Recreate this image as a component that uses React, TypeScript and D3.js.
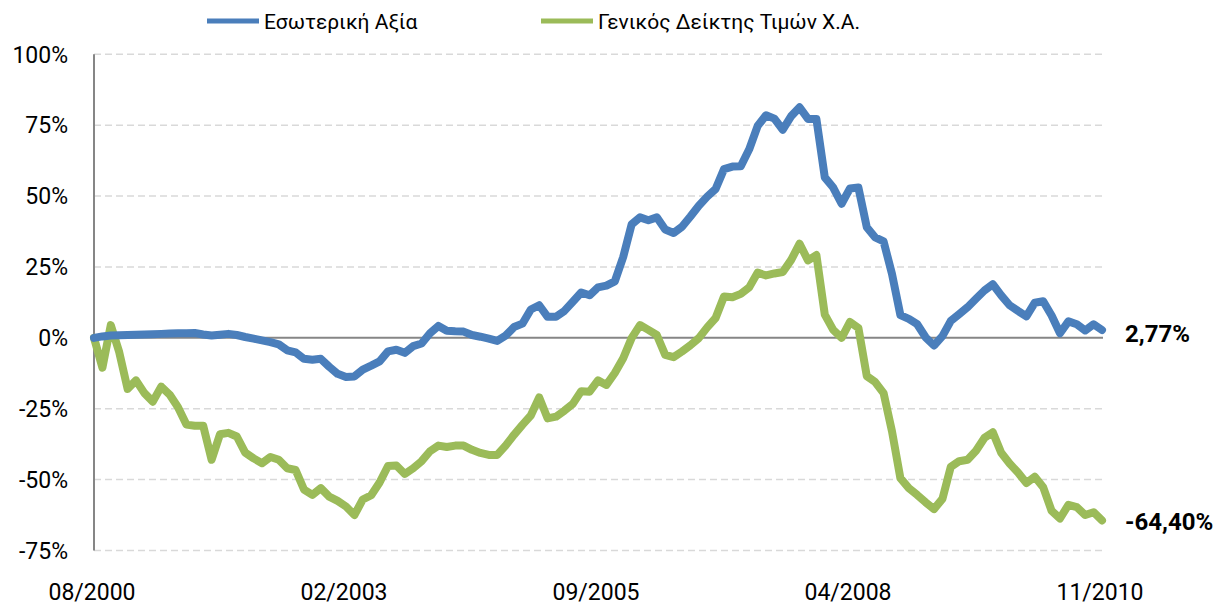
import React, { useRef, useEffect } from "react";
import * as d3 from "d3";

// Σειρές (μηνιαίες μεταβολές %, 08/2000 - 11/2010)
const seriesNames = ["Εσωτερική Αξία", "Γενικός Δείκτης Τιμών Χ.Α."];
const seriesColors = ["#4a7ebb", "#9bbb59"];

const intrinsicValue = [
  0, 0.5, 0.8, 0.9, 1.0, 1.1, 1.2, 1.3, 1.4, 1.5,
  1.6, 1.6, 1.7, 1.2, 0.8, 1.1, 1.4, 1.0, 0.3, -0.3,
  -0.9, -1.5, -2.3, -4.4, -5.1, -7.4, -7.7, -7.4, -10.2, -12.7,
  -13.8, -13.6, -11.2, -9.8, -8.3, -4.8, -4.2, -5.3, -2.9, -2.0,
  1.6, 4.2, 2.5, 2.3, 2.2, 1.0, 0.4, -0.3, -1.1, 0.8,
  3.8, 5.0, 10.0, 11.5, 7.4, 7.4, 9.5, 12.7, 16.0, 15.0,
  17.8, 18.4, 19.9, 28.5, 40.0, 42.5, 41.5, 42.5, 38.2, 37.0,
  39.2, 42.8, 46.6, 49.8, 52.5, 59.5, 60.4, 60.5, 66.5, 74.7,
  78.5, 77.3, 73.4, 78.2, 81.3, 77.2, 77.2, 56.6, 53.0, 47.3,
  52.7, 53.0, 39.0, 35.4, 34.0, 22.5, 8.0, 6.7, 4.8, 0.2,
  -2.7, 0.6, 6.0, 8.4, 10.8, 13.8, 16.7, 18.9, 15.0, 11.5,
  9.5, 7.6, 12.4, 12.9, 7.9, 1.6, 5.8, 4.8, 2.6, 4.8,
  2.77,
];

const generalIndex = [
  0, -10.5, 4.5, -5.0, -18.0, -15.0, -19.5, -22.5, -17.2, -20.0,
  -24.5, -30.6, -31.0, -31.0, -43.0, -34.0, -33.5, -34.8, -40.5, -42.5,
  -44.2, -42.0, -43.0, -46.0, -46.6, -53.5, -55.4, -53.0, -56.0, -57.5,
  -59.5, -62.5, -57.0, -55.5, -51.0, -45.2, -45.0, -48.0, -46.0, -43.5,
  -40.0, -38.0, -38.5, -38.0, -38.0, -39.5, -40.6, -41.3, -41.3, -38.0,
  -34.2, -30.7, -27.4, -21.0, -28.4, -27.8, -25.7, -23.3, -18.8, -19.0,
  -15.0, -16.6, -12.4, -7.2, -0.1, 4.5, 2.8, 1.0, -6.0, -6.8,
  -4.8, -2.6, -0.1, 3.7, 7.0, 14.6, 14.3, 15.5, 17.8, 23.0,
  22.0, 22.7, 23.2, 27.5, 33.2, 27.3, 29.2, 8.2, 2.8, 0.0,
  5.6, 3.5, -13.5, -15.6, -19.5, -33.0, -49.5, -53.0, -55.4, -58.0,
  -60.4, -56.8, -45.5, -43.5, -43.0, -39.8, -35.3, -33.3, -40.5, -44.3,
  -47.5, -51.2, -49.0, -52.7, -61.0, -63.7, -58.9, -59.7, -62.5, -61.5,
  -64.4,
];

const xTickLabels = ["08/2000", "02/2003", "09/2005", "04/2008", "11/2010"];
const xTickStep = 30;
const yTicks = [-75, -50, -25, 0, 25, 50, 75, 100];
const endLabels = ["2,77%", "-64,40%"];

const WIDTH = 1216;
const HEIGHT = 605;
const FONT = "Roboto, 'Open Sans', sans-serif";

export default function App() {
  const svgRef = useRef<SVGSVGElement>(null);

  useEffect(() => {
    if (!svgRef.current) return;
    const svg = d3.select(svgRef.current);
    svg.selectAll("*").remove();

    const left = 94;
    const right = 1102;
    const top = 54.3;
    const bottom = 550.5;

    const x = d3.scaleLinear().domain([0, intrinsicValue.length - 1]).range([left, right]);
    const y = d3.scaleLinear().domain([-75, 100]).range([bottom, top]);

    // οριζόντιες γραμμές πλέγματος
    yTicks
      .filter((t) => t !== 0)
      .forEach((t) => {
        svg
          .append("line")
          .attr("x1", left)
          .attr("x2", right + 1)
          .attr("y1", y(t))
          .attr("y2", y(t))
          .attr("stroke", "#d9d9d9")
          .attr("stroke-width", 1.5)
          .attr("stroke-dasharray", "7,4");
      });

    // ετικέτες άξονα Y
    yTicks.forEach((t) => {
      svg
        .append("text")
        .attr("x", 68)
        .attr("y", y(t))
        .attr("dy", "0.36em")
        .attr("text-anchor", "end")
        .style("font-family", FONT)
        .style("font-size", "23px")
        .style("fill", "#000")
        .text(`${t}%`);
    });

    // ετικέτες άξονα X
    xTickLabels.forEach((label, i) => {
      svg
        .append("text")
        .attr("x", x(i * xTickStep) - 2)
        .attr("y", 600)
        .attr("text-anchor", "middle")
        .style("font-family", FONT)
        .style("font-size", "23px")
        .style("fill", "#000")
        .text(label);
    });

    // άξονας Y και γραμμή μηδέν
    svg
      .append("line")
      .attr("x1", left)
      .attr("x2", left)
      .attr("y1", top)
      .attr("y2", bottom)
      .attr("stroke", "#868686")
      .attr("stroke-width", 2);

    svg
      .append("line")
      .attr("x1", left)
      .attr("x2", right + 1)
      .attr("y1", y(0))
      .attr("y2", y(0))
      .attr("stroke", "#868686")
      .attr("stroke-width", 2);

    // γραμμές σειρών
    const line = d3
      .line<number>()
      .x((_, i) => x(i))
      .y((d) => y(d));

    [generalIndex, intrinsicValue].forEach((data, k) => {
      const color = k === 0 ? seriesColors[1] : seriesColors[0];
      svg
        .append("path")
        .datum(data)
        .attr("d", line)
        .attr("fill", "none")
        .attr("stroke", color)
        .attr("stroke-width", 8)
        .attr("stroke-linejoin", "round")
        .attr("stroke-linecap", "round");
    });

    // τελικές τιμές
    const lastValues = [
      intrinsicValue[intrinsicValue.length - 1],
      generalIndex[generalIndex.length - 1],
    ];
    lastValues.forEach((v, i) => {
      svg
        .append("text")
        .attr("x", 1125)
        .attr("y", y(v) + (i === 0 ? 3 : 1))
        .attr("dy", "0.36em")
        .style("font-family", FONT)
        .style("font-size", "24px")
        .style("font-weight", "bold")
        .style("fill", "#000")
        .text(endLabels[i]);
    });

    // υπόμνημα
    const legendX = [207, 541];
    seriesNames.forEach((name, i) => {
      svg
        .append("line")
        .attr("x1", legendX[i])
        .attr("x2", legendX[i] + 52)
        .attr("y1", 21)
        .attr("y2", 21)
        .attr("stroke", seriesColors[i])
        .attr("stroke-width", 5);
      svg
        .append("text")
        .attr("x", legendX[i] + 57)
        .attr("y", 21)
        .attr("dy", "0.36em")
        .style("font-family", FONT)
        .style("font-size", "21px")
        .style("fill", "#000")
        .text(name);
    });
  }, []);

  return (
    <svg
      ref={svgRef}
      width={WIDTH}
      height={HEIGHT}
      viewBox={`0 0 ${WIDTH} ${HEIGHT}`}
      style={{ position: "absolute", left: 0, top: 0, background: "#fff" }}
    />
  );
}
